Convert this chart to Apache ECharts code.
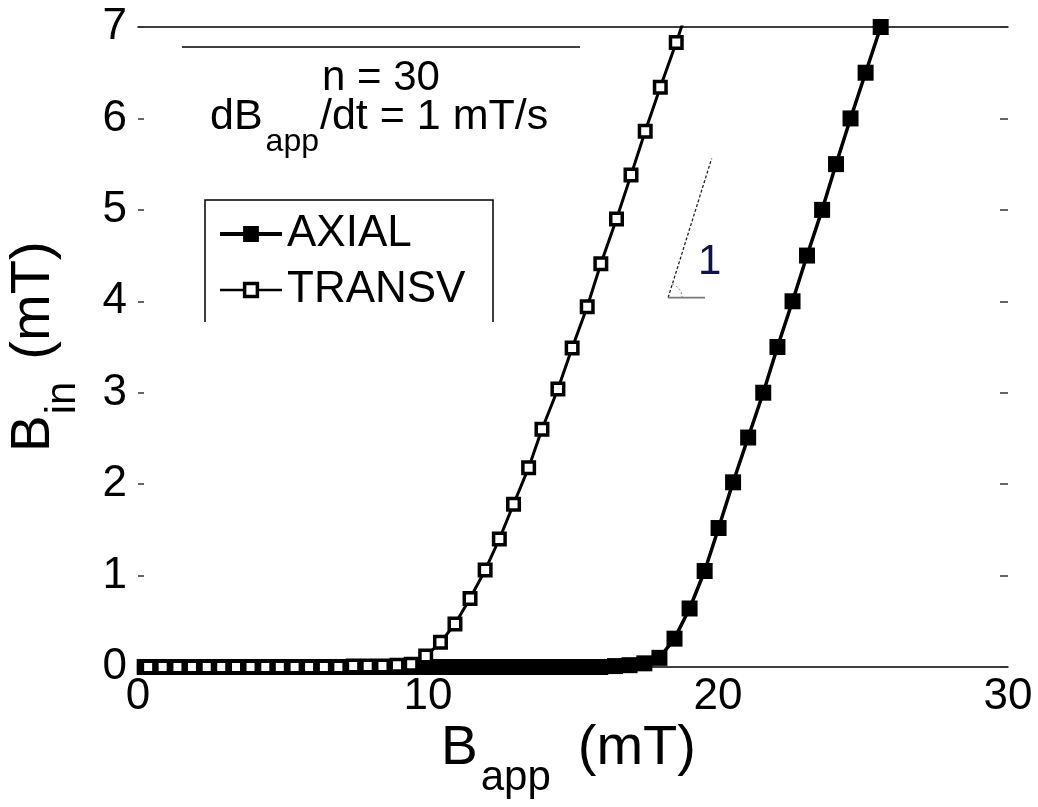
<!DOCTYPE html>
<html>
<head>
<meta charset="utf-8">
<script src="https://cdn.jsdelivr.net/npm/echarts@6/dist/echarts.min.js"></script>
<style>
  html, body { margin: 0; padding: 0; background: #fff; }
  #chart { width: 1038px; height: 807px; }
</style>
</head>
<body>
<div id="chart"></div>
<script>
// Tick values
const X_TICKS = [0, 10, 20, 30];
const Y_TICKS = [0, 1, 2, 3, 4, 5, 6, 7];

// Series names (legend order)
const SERIES_NAMES = ['AXIAL', 'TRANSV'];

// AXIAL: applied field (mT) and internal field (mT)
const AXIAL_X = [0.23, 0.74, 1.25, 1.75, 2.26, 2.77, 3.27, 3.78, 4.29, 4.79,
                 5.30, 5.81, 6.31, 6.82, 7.33, 7.83, 8.34, 8.85, 9.35, 9.86,
                 10.37, 10.87, 11.38, 11.89, 12.39, 12.90, 13.41, 13.91, 14.42, 14.93,
                 15.43, 15.94, 16.45, 16.95, 17.46, 17.98, 18.50, 19.02, 19.54, 20.02,
                 20.52, 21.04, 21.56, 22.05, 22.57, 23.07, 23.59, 24.07, 24.57, 25.09,
                 25.61];
const AXIAL_Y = [0, 0, 0, 0, 0, 0, 0, 0, 0, 0,
                 0, 0, 0, 0, 0, 0, 0, 0, 0, 0,
                 0, 0, 0, 0, 0, 0, 0, 0, 0, 0,
                 0, 0, 0.01, 0.02, 0.04, 0.10, 0.31, 0.64, 1.05, 1.52,
                 2.02, 2.51, 3.00, 3.50, 4.00, 4.50, 5.00, 5.50, 6.00, 6.50,
                 7.00];

// TRANSV: applied field (mT) and internal field (mT)
const TRANSV_X = [0.35, 0.85, 1.36, 1.86, 2.37, 2.87, 3.38, 3.88, 4.39, 4.89,
                  5.40, 5.90, 6.41, 6.91, 7.42, 7.92, 8.43, 8.93, 9.42, 9.92,
                  10.43, 10.93, 11.45, 11.97, 12.46, 12.95, 13.47, 13.93, 14.48, 14.97,
                  15.49, 15.96, 16.50, 17.00, 17.49, 18.01, 18.56, 19.07];
const TRANSV_Y = [0, 0, 0, 0, 0, 0, 0, 0, 0, 0,
                  0, 0, 0, 0, 0.01, 0.01, 0.01, 0.02, 0.03, 0.12,
                  0.27, 0.47, 0.75, 1.06, 1.40, 1.78, 2.18, 2.60, 3.04, 3.49,
                  3.94, 4.41, 4.90, 5.38, 5.86, 6.34, 6.83, 7.31];

// Slope-1 guide triangle (data coordinates)
const SLOPE_GUIDE = [[18.28, 4.04], [19.78, 5.56]];
const SLOPE_BASE = [[18.28, 4.04], [19.55, 4.04]];
const SLOPE_LABEL = '1';

const FONT = '"Liberation Sans", Arial, Helvetica, sans-serif';
const zip = (xs, ys) => xs.map((x, i) => [x, ys[i]]);

const measureCtx = document.createElement('canvas').getContext('2d');
function textWidth(s, size) {
  measureCtx.font = size + 'px ' + FONT;
  return measureCtx.measureText(s).width;
}
// Text element placed by its alphabetic baseline
function baselineText(text, x, baseline, size, align, fill) {
  return {
    type: 'text',
    silent: true,
    style: {
      text: text, x: x, y: baseline - 0.3465 * size,
      font: size + 'px ' + FONT, fill: fill || '#000',
      align: align || 'left', verticalAlign: 'middle'
    }
  };
}
// Chain of text runs with subscript offsets: [text, size, dy, gapAfter]
function textRuns(runs, x0, baseline) {
  const out = [];
  let x = x0;
  runs.forEach(([t, size, dy, gap]) => {
    out.push(baselineText(t, x, baseline + dy, size));
    x += textWidth(t, size) + (gap || 0);
  });
  return out;
}

const chart = echarts.init(document.getElementById('chart'), null, { renderer: 'canvas' });

const tickLine = { color: '#333', width: 1.5 };
const frameLine = { color: '#000', width: 1.5 };

chart.setOption({
  animation: false,
  backgroundColor: '#fff',
  grid: { left: 138, right: 30, top: 27, bottom: 140 },
  legend: {
    data: [
      { name: SERIES_NAMES[0],
        itemStyle: { color: '#000', borderColor: '#000', borderWidth: 3 },
        lineStyle: { color: '#000', width: 4 } },
      { name: SERIES_NAMES[1],
        itemStyle: { color: '#fff', borderColor: '#000', borderWidth: 3.5 },
        lineStyle: { color: '#000', width: 2.5 } }
    ],
    orient: 'vertical',
    left: 218,
    top: 211,
    padding: 0,
    itemWidth: 62,
    itemHeight: 16,
    itemGap: 10,
    selectedMode: false,
    textStyle: { fontSize: 44, fontFamily: FONT, color: '#000', lineHeight: 46 }
  },
  xAxis: [
    {
      type: 'value', min: X_TICKS[0], max: X_TICKS[X_TICKS.length - 1], interval: 10,
      position: 'bottom',
      axisLine: { show: true, onZero: false, lineStyle: frameLine },
      axisTick: { show: false },
      splitLine: { show: false },
      axisLabel: { customValues: X_TICKS, fontSize: 44, fontFamily: FONT, color: '#000', margin: 8 }
    },
    {
      type: 'value', min: X_TICKS[0], max: X_TICKS[X_TICKS.length - 1], interval: 10,
      position: 'top',
      axisLine: { show: true, onZero: false, lineStyle: frameLine },
      axisTick: { show: false },
      splitLine: { show: false },
      axisLabel: { show: false }
    }
  ],
  yAxis: [
    {
      type: 'value', min: Y_TICKS[0], max: Y_TICKS[Y_TICKS.length - 1], interval: 1,
      position: 'left',
      axisLine: { show: false, onZero: false },
      axisTick: { show: true, inside: true, length: 6, lineStyle: tickLine },
      splitLine: { show: false },
      axisLabel: { customValues: Y_TICKS, fontSize: 44, fontFamily: FONT, color: '#000', margin: 11 }
    },
    {
      type: 'value', min: Y_TICKS[0], max: Y_TICKS[Y_TICKS.length - 1], interval: 1,
      position: 'right',
      axisLine: { show: false, onZero: false },
      axisTick: { show: true, inside: true, length: 8, lineStyle: tickLine },
      splitLine: { show: false },
      axisLabel: { show: false }
    }
  ],
  series: [
    {
      name: 'AXIAL', type: 'line', data: zip(AXIAL_X, AXIAL_Y),
      symbol: 'rect', symbolSize: 16,
      itemStyle: { color: '#000' },
      lineStyle: { color: '#000', width: 3.5 },
      emphasis: { disabled: true }, z: 3
    },
    {
      name: 'TRANSV', type: 'line', data: zip(TRANSV_X, TRANSV_Y),
      symbol: 'rect', symbolSize: 11.5,
      itemStyle: { color: '#fff', borderColor: '#000', borderWidth: 3.5 },
      lineStyle: { color: '#000', width: 3 },
      emphasis: { disabled: true }, z: 4
    },
    {
      name: 'slope', type: 'line', data: SLOPE_GUIDE, symbol: 'none', silent: true,
      lineStyle: { color: '#222', width: 1.3, type: [3, 2] }, z: 2
    },
    {
      name: 'slopeBase', type: 'line', data: SLOPE_BASE, symbol: 'none', silent: true,
      lineStyle: { color: '#777', width: 1.6 }, z: 2
    }
  ]
});

// Annotations: titles, legend frame, parameter text, slope label
const corner = chart.convertToPixel({ gridIndex: 0 }, SLOPE_BASE[0]);
const guideTop = chart.convertToPixel({ gridIndex: 0 }, SLOPE_GUIDE[1]);
const guideAngle = Math.atan2(guideTop[1] - corner[1], guideTop[0] - corner[0]);

const graphics = [];

// x-axis title: B_app (mT)
textRuns([['B', 55, 0, 3], ['app', 42, 25, 27], ['(mT)', 56, 0, 0]], 441, 768)
  .forEach(g => graphics.push(g));

// y-axis title: B_in (mT), reading bottom-to-top
graphics.push({
  type: 'group', x: 53, y: 452, rotation: Math.PI / 2,
  children: textRuns([['B', 55, 0, 1], ['in', 42, 25, 22], ['(mT)', 56, 0, 0]], 0, 0)
});

// Parameter block
graphics.push({
  type: 'line', silent: true,
  shape: { x1: 182, y1: 47, x2: 580, y2: 47 },
  style: { stroke: '#000', lineWidth: 1.5 }
});
graphics.push(baselineText('n = 30', 381, 93, 42, 'center'));
textRuns([['dB', 43, 0, 3], ['app', 32, 21, 1], ['/dt = 1 mT/s', 43, 0, 0]], 210, 132)
  .forEach(g => graphics.push(g));

// Legend frame (open at the bottom)
graphics.push({
  type: 'polyline', silent: true,
  shape: { points: [[205, 322], [205, 200], [493, 200], [493, 322]] },
  style: { stroke: '#000', lineWidth: 1.5, fill: null }
});

// Slope triangle: angle mark and label
graphics.push({
  type: 'arc', silent: true,
  shape: { cx: corner[0], cy: corner[1], r: 14, startAngle: guideAngle, endAngle: 0, clockwise: true },
  style: { stroke: '#888', lineWidth: 1, lineDash: [2, 2], fill: null }
});
graphics.push(baselineText(SLOPE_LABEL, corner[0] + 30, corner[1] - 21, 42, 'left', '#10104a'));

chart.setOption({ graphic: graphics });
</script>
</body>
</html>
